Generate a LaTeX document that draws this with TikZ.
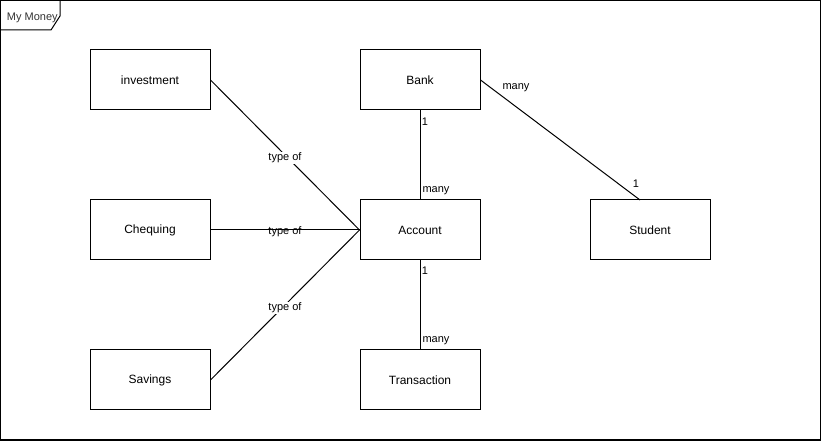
\documentclass[tikz,border=0pt]{standalone}
\usepackage{fontspec}
\setmainfont{Liberation Sans}
\begin{document}
\begin{tikzpicture}[x=0.75pt,y=-0.75pt,
  entity/.style={draw=black,line width=0.75pt,minimum width=90pt,minimum height=45pt,inner sep=0pt,font=\fontsize{9}{10}\selectfont},
  conn/.style={draw=black,line width=0.75pt},
  lbl/.style={font=\fontsize{8.25}{9}\selectfont,inner sep=0.5pt},
  lblw/.style={lbl,fill=white}]
\useasboundingbox (0,0) rectangle (821,441);
\draw[line width=0.75pt] (0.5,0.5) rectangle (820,440);
\draw[line width=0.75pt] (0.5,30) -- (51,30) -- (60,16) -- (60,0.5);
\node[lbl,anchor=west,text=black!80] (title) at (6,18) {My Money};
\node[entity] (inv) at (150,80) {investment};
\node[entity] (bank) at (420,80) {Bank};
\node[entity] (cheq) at (150,230) {Chequing};
\node[entity] (acc) at (420,230) {Account};
\node[entity] (stu) at (650,230) {Student};
\node[entity] (sav) at (150,380) {Savings};
\node[entity] (tra) at (420,380) {Transaction};
\coordinate (stutop) at (640,200);
\draw[conn] (inv.east) -- (acc.west);
\draw[conn] (cheq.east) -- (acc.west);
\draw[conn] (sav.east) -- (acc.west);
\draw[conn] (bank.east) -- (stutop);
\draw[conn] (bank.south) -- (acc.north);
\draw[conn] (acc.south) -- (tra.north);
\node[lblw] (t1) at (285,158) {type of};
\node[lbl] (t2) at (285,232) {type of};
\node[lblw] (t3) at (285,308) {type of};
\node[lbl] (m1) at (516,88) {many};
\node[lbl] (o1) at (636,184) {1};
\node[lbl] (o2) at (425,122) {1};
\node[lbl] (m2) at (436,191) {many};
\node[lbl] (o3) at (425,271) {1};
\node[lbl] (m3) at (436,341) {many};
\end{tikzpicture}
\end{document}
